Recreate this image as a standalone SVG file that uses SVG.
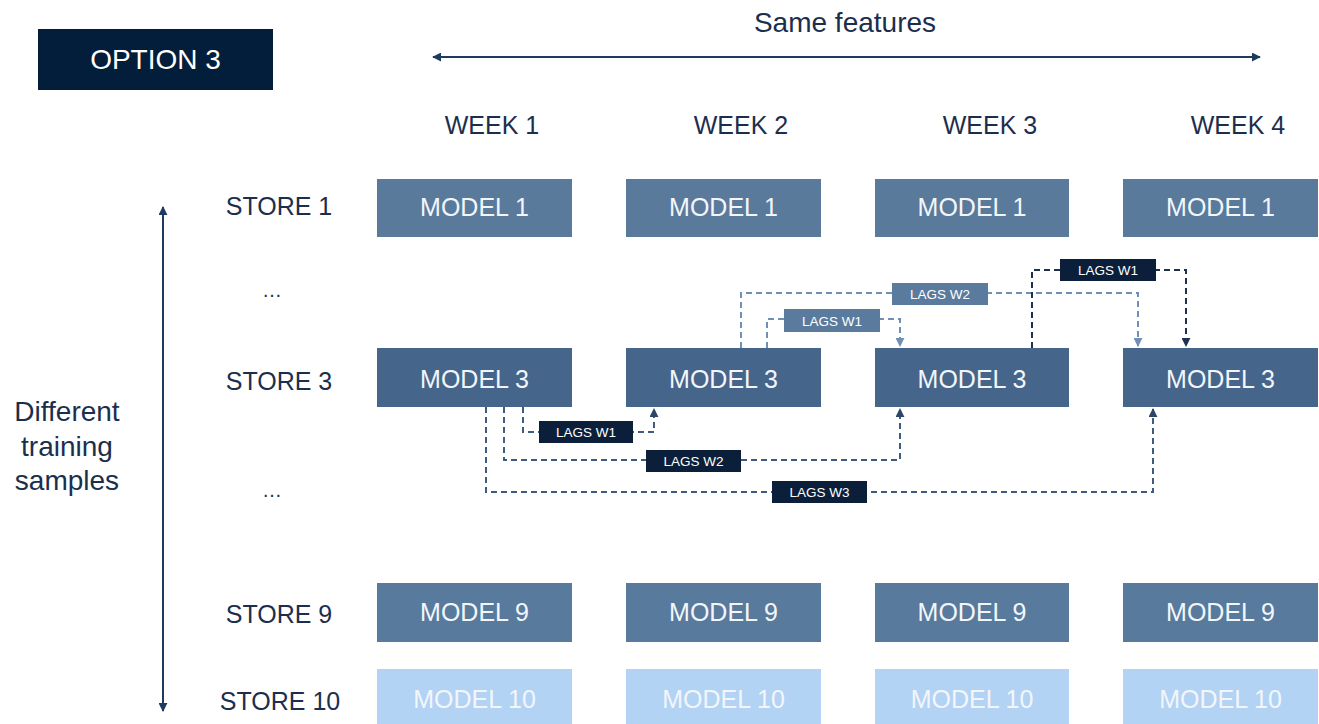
<svg xmlns="http://www.w3.org/2000/svg" width="1319" height="724" viewBox="0 0 1319 724">
<defs>
<style>
.t{font-family:"Liberation Sans",Arial,sans-serif;fill:#1b2f4d}
.m{font-family:"Liberation Sans",Arial,sans-serif;font-size:25px;fill:#f2f6fb;text-anchor:middle}
.r1{fill:#5a7a9c}
.r3{fill:#46658a}
.r9{fill:#587a9c}
.r10{fill:#b2d3f3}
.lb{font-family:"Liberation Sans",Arial,sans-serif;font-size:13.5px;fill:#ffffff;text-anchor:middle}
.dk{fill:#0b1f3a}
.lt{fill:#5b7b9e}
.c{fill:none;stroke-width:2;stroke-dasharray:6 4}
.cm{stroke:#3e5c80}
.cl{stroke:#6f8fb4}
.cd{stroke:#1c314f}
.ax{stroke:#1f3a5f;stroke-width:2;fill:none}
</style>
<marker id="am" viewBox="0 0 10 10" refX="9" refY="5" markerWidth="9" markerHeight="9" markerUnits="userSpaceOnUse" orient="auto"><path d="M0,0 L10,5 L0,10 z" fill="#2c4668"/></marker>
<marker id="al" viewBox="0 0 10 10" refX="9" refY="5" markerWidth="9" markerHeight="9" markerUnits="userSpaceOnUse" orient="auto"><path d="M0,0 L10,5 L0,10 z" fill="#6f8fb4"/></marker>
<marker id="ad" viewBox="0 0 10 10" refX="9" refY="5" markerWidth="9" markerHeight="9" markerUnits="userSpaceOnUse" orient="auto"><path d="M0,0 L10,5 L0,10 z" fill="#1c314f"/></marker>
<marker id="ax" viewBox="0 0 10 10" refX="9" refY="5" markerWidth="9" markerHeight="9" markerUnits="userSpaceOnUse" orient="auto-start-reverse"><path d="M0,0 L10,5 L0,10 z" fill="#1f3a5f"/></marker>
</defs>
<rect width="1319" height="724" fill="#ffffff"/>

<g id="title">
<rect x="38" y="29" width="235" height="61" fill="#021e3b"/>
<text x="155.5" y="69" font-family="Liberation Sans,Arial,sans-serif" font-size="28" fill="#ffffff" text-anchor="middle">OPTION 3</text>
</g>

<g id="axes">
<line x1="433" y1="57" x2="1260" y2="57" class="ax" marker-start="url(#ax)" marker-end="url(#ax)"/>
<text x="845" y="32" class="t" font-size="28" text-anchor="middle">Same features</text>
<line x1="163" y1="207" x2="163" y2="711" class="ax" marker-start="url(#ax)" marker-end="url(#ax)"/>
<text class="t" font-size="28" text-anchor="middle"><tspan x="67" y="421">Different</tspan><tspan x="67" y="456">training</tspan><tspan x="67" y="490">samples</tspan></text>
</g>

<g id="weeks" class="t" font-size="25" text-anchor="middle">
<text x="492" y="134" class="t" font-size="25" text-anchor="middle">WEEK 1</text>
<text x="741" y="134" class="t" font-size="25" text-anchor="middle">WEEK 2</text>
<text x="990" y="134" class="t" font-size="25" text-anchor="middle">WEEK 3</text>
<text x="1238" y="134" class="t" font-size="25" text-anchor="middle">WEEK 4</text>
</g>

<g id="stores">
<text x="279" y="215" class="t" font-size="25" text-anchor="middle">STORE 1</text>
<text x="272" y="297" class="t" font-size="20" text-anchor="middle">…</text>
<text x="279" y="390" class="t" font-size="25" text-anchor="middle">STORE 3</text>
<text x="272" y="497" class="t" font-size="20" text-anchor="middle">…</text>
<text x="279" y="623" class="t" font-size="25" text-anchor="middle">STORE 9</text>
<text x="280" y="710" class="t" font-size="25" text-anchor="middle">STORE 10</text>
</g>

<g id="row1">
<rect x="377" y="179" width="195" height="58" class="r1"/><text x="474.5" y="216" class="m">MODEL 1</text>
<rect x="626" y="179" width="195" height="58" class="r1"/><text x="723.5" y="216" class="m">MODEL 1</text>
<rect x="875" y="179" width="194" height="58" class="r1"/><text x="972" y="216" class="m">MODEL 1</text>
<rect x="1123" y="179" width="195" height="58" class="r1"/><text x="1220.5" y="216" class="m">MODEL 1</text>
</g>

<g id="connectors">
<path d="M523,407 V432 H654 V409" class="c cm" marker-end="url(#am)"/>
<path d="M504,407 V460 H900 V409" class="c cm" marker-end="url(#am)"/>
<path d="M486,407 V492 H1153 V409" class="c cm" marker-end="url(#am)"/>
<path d="M767,348 V319 H900 V346" class="c cl" marker-end="url(#al)"/>
<path d="M741,348 V293 H1138 V346" class="c cl" marker-end="url(#al)"/>
<path d="M1032,348 V270 H1186 V346" class="c cd" marker-end="url(#ad)"/>
</g>

<g id="row3">
<rect x="377" y="348" width="195" height="59" class="r3"/><text x="474.5" y="388" class="m">MODEL 3</text>
<rect x="626" y="348" width="195" height="59" class="r3"/><text x="723.5" y="388" class="m">MODEL 3</text>
<rect x="875" y="348" width="194" height="59" class="r3"/><text x="972" y="388" class="m">MODEL 3</text>
<rect x="1123" y="348" width="195" height="59" class="r3"/><text x="1220.5" y="388" class="m">MODEL 3</text>
</g>

<g id="lags">
<rect x="539" y="421" width="94" height="22" class="dk"/><text x="586" y="437" class="lb">LAGS W1</text>
<rect x="646" y="450" width="95" height="22" class="dk"/><text x="693.5" y="466" class="lb">LAGS W2</text>
<rect x="772" y="481" width="95" height="22" class="dk"/><text x="819.5" y="497" class="lb">LAGS W3</text>
<rect x="784" y="309" width="96" height="23" class="lt"/><text x="832" y="325.5" class="lb">LAGS W1</text>
<rect x="892" y="283" width="96" height="22" class="lt"/><text x="940" y="299" class="lb">LAGS W2</text>
<rect x="1060" y="259" width="96" height="22" class="dk"/><text x="1108" y="275" class="lb">LAGS W1</text>
</g>

<g id="row9">
<rect x="377" y="583" width="195" height="59" class="r9"/><text x="474.5" y="621" class="m">MODEL 9</text>
<rect x="626" y="583" width="195" height="59" class="r9"/><text x="723.5" y="621" class="m">MODEL 9</text>
<rect x="875" y="583" width="194" height="59" class="r9"/><text x="972" y="621" class="m">MODEL 9</text>
<rect x="1123" y="583" width="195" height="59" class="r9"/><text x="1220.5" y="621" class="m">MODEL 9</text>
</g>

<g id="row10">
<rect x="377" y="669" width="195" height="60" class="r10"/><text x="474.5" y="708" class="m">MODEL 10</text>
<rect x="626" y="669" width="195" height="60" class="r10"/><text x="723.5" y="708" class="m">MODEL 10</text>
<rect x="875" y="669" width="194" height="60" class="r10"/><text x="972" y="708" class="m">MODEL 10</text>
<rect x="1123" y="669" width="195" height="60" class="r10"/><text x="1220.5" y="708" class="m">MODEL 10</text>
</g>
</svg>
